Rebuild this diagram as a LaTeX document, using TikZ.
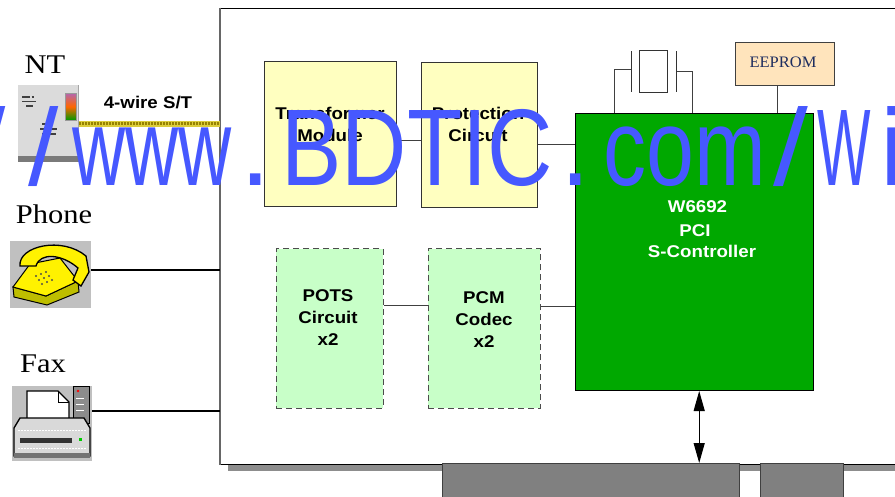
\documentclass[tikz,border=0pt]{standalone}
\usepackage{fontspec}
\setmainfont{Liberation Serif}
\newfontfamily\lblsans[FakeStretch=1.1]{Liberation Sans}
\newfontfamily\lblserif[FakeStretch=1.13]{Liberation Serif}
\newfontfamily\eepserif[FakeStretch=1.03]{Liberation Serif}
\newfontfamily\wmfont{Liberation Sans}
\usetikzlibrary{arrows.meta,calc}
\definecolor{ctrlgreen}{RGB}{0,168,0}
\definecolor{boxyellow}{RGB}{255,255,192}
\definecolor{boxmint}{RGB}{200,255,200}
\definecolor{eepfill}{RGB}{255,228,188}
\definecolor{eeptext}{RGB}{30,45,95}
\definecolor{wmblue}{RGB}{70,88,255}
\definecolor{linegray}{RGB}{64,64,64}
\definecolor{iconbg}{RGB}{192,192,192}
\definecolor{pcigray}{RGB}{128,128,128}
\definecolor{cableyel}{RGB}{220,205,60}
\definecolor{cabledot}{RGB}{150,130,0}
\definecolor{phonedark}{RGB}{190,190,0}
\begin{document}
\begin{tikzpicture}[x=1pt,y=-1pt,
  ybox/.style={draw=black!80, line width=0.9pt, fill=boxyellow, inner sep=0, anchor=north west},
  gbox/.style={draw=black!70, line width=0.9pt, dash pattern=on 6pt off 4pt, fill=boxmint, inner sep=0, anchor=north west},
  lbl/.style={font=\lblsans\bfseries\fontsize{17}{22}\selectfont, align=center, inner sep=0},
  wlbl/.style={lbl, text=white, anchor=base},
  bigl/.style={font=\lblserif\fontsize{27}{30}\selectfont, inner sep=0, anchor=base},
  wire/.style={draw=linegray, line width=0.9pt},
  wm/.style={font=\wmfont\fontsize{109}{109}\selectfont, text=wmblue, inner sep=0, anchor=base west},
  iconbox/.style={inner sep=0, anchor=north west},
  pcibox/.style={draw=black!75, fill=pcigray, line width=1pt, inner sep=0, anchor=north west, minimum height=40pt}
]
\useasboundingbox (0,0) rectangle (895,496);

% board shadow and board
\fill[pcigray!90] (228,16) rectangle (930,471);
\node[draw=black, fill=white, line width=1pt, inner sep=0, minimum width=700pt, minimum height=456pt] (board) at (570,236) {};
\draw[black!60, line width=2pt] (board.north west) -- (board.south west);

% PCI edge connector
\node[pcibox, minimum width=297.3pt] (pci1) at (441.7,463) {};
\node[pcibox, minimum width=83pt] (pci2) at (760,463) {};

% blocks
\node[ybox, minimum width=132pt, minimum height=145.3pt] (trans) at (264,60.7) {};
\node[ybox, minimum width=116.3pt, minimum height=145pt] (prot) at (420.7,61.7) {};
\node[gbox, minimum width=106.7pt, minimum height=159.4pt] (pots) at (276,248.3) {};
\node[gbox, minimum width=112.3pt, minimum height=159.4pt] (pcm) at (427.7,248.3) {};
\node[draw=black, line width=1pt, fill=ctrlgreen, inner sep=0, anchor=north west, minimum width=237.7pt, minimum height=277.3pt] (ctrl) at (575,112.7) {};
\node[draw=black!75, line width=1pt, fill=eepfill, inner sep=0, anchor=north west, minimum width=99pt, minimum height=42.7pt] (eeprom) at (735,42.3) {};
\node[draw=black!80, line width=1pt, fill=white, inner sep=0, anchor=north west, minimum width=28pt, minimum height=42pt] (xtal) at (639.3,50) {};

% texts
\node[lbl] (transtxt) at (330,124) {Transformer\\Module};
\node[lbl] (prottxt) at (478,124) {Protection\\Circuit};
\node[lbl] (potstxt) at (328,318) {POTS\\Circuit\\x2};
\node[lbl] (pcmtxt) at (484,319.5) {PCM\\Codec\\x2};
\node[wlbl] (ctrltxta) at (697.5,212.8) {W6692};
\node[wlbl] (ctrltxtb) at (695,236.1) {PCI};
\node[wlbl] (ctrltxtc) at (702,257.8) {S-Controller};
\node[font=\eepserif\fontsize{16}{18}\selectfont, text=eeptext, inner sep=0, anchor=base] (eeptxt) at (783,67.3) {EEPROM};
\node[lbl, anchor=base] (wiretxt) at (148,108.5) {4-wire S/T};
\node[bigl] (nttxt) at (45,73.3) {NT};
\node[bigl] (phonetxt) at (54,223) {Phone};
\node[bigl] (faxtxt) at (43,372) {Fax};

% internal connectors
\coordinate (c1) at ([yshift=-6.65pt]trans.east);
\draw[wire] (c1) -- (c1 -| prot.west);
\coordinate (c2) at ([yshift=-9.3pt]prot.east);
\draw[wire] (c2) -- (c2 -| ctrl.west);
\coordinate (c3) at ([yshift=23pt]pots.east);
\draw[wire] (c3) -- (c3 -| pcm.west);
\coordinate (c4) at ([yshift=22.3pt]pcm.east);
\draw[wire] (c4) -- (c4 -| ctrl.west);
\coordinate (c5) at ([xshift=-7.2pt]eeprom.south);
\draw[wire] (c5) -- (c5 |- ctrl.north);

% crystal
\coordinate (pl) at ([xshift=-8.3pt]xtal.west);
\coordinate (pr) at ([xshift=8.4pt]xtal.east);
\draw[black!80, line width=1pt] ([yshift=20.5pt]pl) -- ([yshift=-20.5pt]pl);
\draw[black!80, line width=1pt] ([yshift=20.5pt]pr) -- ([yshift=-20.5pt]pr);
\coordinate (ll) at ([yshift=1.7pt]pl);
\coordinate (lk) at ([xshift=-16.7pt]ll);
\draw[wire] (ll) -- (lk) -- (lk |- ctrl.north);
\coordinate (rk) at ([xshift=16pt]pr);
\draw[wire] (pr) -- (rk) -- (rk |- ctrl.north);

% bus arrow
\coordinate (ar) at ([xshift=4.85pt]ctrl.south);
\draw[{Triangle[length=20pt,width=11pt]}-{Triangle[length=20pt,width=11pt]}, line width=1.2pt] (ar) -- (ar |- pci1.north);

% icons (invisible nodes for connections)
\node[iconbox, minimum width=61pt, minimum height=76.7pt] (nt) at (18,85) {};
\node[iconbox, minimum width=80.7pt, minimum height=67.6pt] (phone) at (10,240.7) {};
\node[iconbox, minimum width=80pt, minimum height=74.7pt] (fax) at (12,386) {};

% NT icon
\fill[black!14] (18,85) rectangle (79,156);
\draw[black!35, line width=0.8pt] (78.5,85) -- (78.5,156);
\fill[black!52] (18,156) rectangle (79,162);
\draw[black!75, line width=1.5pt] (22,97) -- (30,97) (31.5,97) -- (34,97) (22,101.5) -- (36,101.5) (26,106) -- (33,106);
\draw[black!75, line width=1.5pt] (42,124) -- (52,124) (40,129) -- (57,129) (42,134) -- (56,134);
\shade[top color=violet!60, bottom color=green!60!black, middle color=orange!80!red] (65,93) rectangle (76,120);
\draw[black!40] (65,93) rectangle (76,120);

% Phone icon
\fill[iconbg] (10,240.7) rectangle (90.7,308.3);
\filldraw[fill=phonedark, draw=black, line width=1pt] (13,287) -- (46,296) -- (78,281) -- (79,292) -- (47,305) -- (14,297) -- cycle;
\filldraw[fill=yellow, draw=black, line width=1pt] (13,287) -- (30,264) -- (60,258) -- (78,281) -- (46,296) -- cycle;
\foreach \i in {0,1,2} \foreach \j in {0,1,2} \fill[black!70] ({36+\i*5+\j*3},{276+\j*4-\i*2}) circle (1.2pt);
\filldraw[fill=yellow, draw=black, line width=1.3pt] (20,266) .. controls (18,246) and (62,236) .. (86,256) -- (89,272) -- (81,286) -- (73,280) -- (78,268) .. controls (62,254) and (40,252) .. (36,266) -- cycle;

% Fax icon
\fill[iconbg] (12,386) rectangle (92,460.7);
\filldraw[fill=black!45, draw=black, line width=1pt] (73,386) rectangle (89,423);
\fill[red] (78,391) circle (1.3pt);
\draw[white, line width=1pt] (76,398) -- (84,398) (76,404) -- (84,404) (76,410) -- (84,410);
\filldraw[fill=white, draw=black, line width=1.3pt] (27,423) -- (27,391) -- (58,391) -- (69,402) -- (69,423);
\draw[black, line width=1pt] (58,391) -- (58,402) -- (69,402);
\filldraw[fill=black!15, draw=black, line width=1.3pt] (14,428) -- (20,418) -- (84,418) -- (90,428) -- (90,456) -- (14,456) -- cycle;
\draw[white, line width=1pt, dash pattern=on 1.5pt off 1.5pt] (18,430) -- (86,430) (18,448) -- (86,448);
\fill[black!80] (20,438) rectangle (72,443);
\fill[green!80!black] (79,438) rectangle (82,441);
\fill[black!55] (14,453) rectangle (90,458);

% external connections
\draw[line width=6pt, draw=cableyel] (nt.east) -- (nt.east -| board.west);
\draw[line width=3pt, draw=cabledot, dash pattern=on 1.5pt off 1.5pt] (nt.east) -- (nt.east -| board.west);
\coordinate (ph) at ([yshift=4.5pt]phone.east);
\draw[black, line width=2pt] (ph) -- (ph -| board.west);
\coordinate (fx) at ([yshift=12.65pt]fax.east);
\draw[black, line width=2pt] (fx) -- (fx -| board.west);

% watermark
\node[wm] (wm1) at (-25,185) {/};
\node[wm] (wm2) at (28,185) {/};
\node[wm, xscale=0.675] (wm3) at (72,185) {www};
\node[wm] (wm4) at (240,185) {.};
\node[wm, xscale=0.83] (wm5) at (281.4,185) {BDTIC};
\node[wm] (wm6) at (560,185) {.};
\node[wm, xscale=0.79] (wm7) at (603.5,185) {com};
\node[wm, xscale=1.15] (wm8) at (773,185) {/};
\node[wm, xscale=0.52] (wm9) at (817,185) {W};
\node[wm] (wm10) at (880,185) {i};
\end{tikzpicture}
\end{document}
